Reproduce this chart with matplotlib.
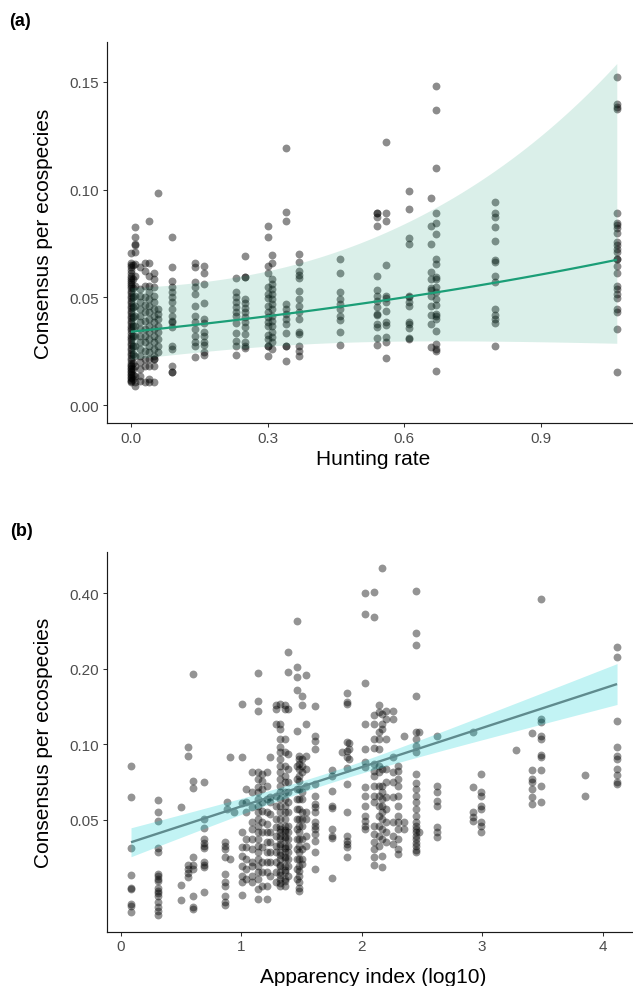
import numpy as np
import matplotlib
matplotlib.use("Agg")
import matplotlib.pyplot as plt
from matplotlib.ticker import FixedLocator, NullLocator, FixedFormatter

plt.rcParams['font.family'] = ['Liberation Sans', 'DejaVu Sans']

# ---------------- Panel (a): hunting rate vs consensus ----------------
hunting_rate = [0.0, 0.005, 0.01, 0.02, 0.03, 0.04, 0.05, 0.06, 0.09, 0.14, 0.16,
                0.23, 0.25, 0.30, 0.31, 0.34, 0.37, 0.46, 0.54, 0.56, 0.61, 0.66,
                0.67, 0.80, 1.067]

consensus_a = [
    [0.0705, 0.0660, 0.0652, 0.0640, 0.0628, 0.0615, 0.0600, 0.0590, 0.0580, 0.0572, 0.0562,
     0.0552, 0.0541, 0.0530, 0.0518, 0.0507, 0.0495, 0.0484, 0.0473, 0.0461, 0.0450, 0.0438,
     0.0427, 0.0415, 0.0404, 0.0392, 0.0380, 0.0369, 0.0357, 0.0346, 0.0334, 0.0322, 0.0311,
     0.0300, 0.0288, 0.0277, 0.0265, 0.0254, 0.0242, 0.0231, 0.0219, 0.0208, 0.0197, 0.0188,
     0.0180, 0.0173, 0.0166, 0.0160, 0.0153, 0.0146, 0.0138, 0.0130, 0.0124, 0.0118, 0.0112,
     0.0105],
    [0.0650, 0.0585, 0.0545, 0.0500, 0.0455, 0.0410, 0.0365, 0.0320, 0.0275, 0.0235, 0.0195,
     0.0165, 0.0140, 0.0122],
    [0.0827, 0.0781, 0.0747, 0.0742, 0.0708, 0.0654, 0.0600, 0.0554, 0.0507, 0.0461, 0.0414,
     0.0368, 0.0321, 0.0275, 0.0229, 0.0182, 0.0136, 0.0108, 0.0090],
    [0.0639, 0.0538, 0.0507, 0.0476, 0.0445, 0.0414, 0.0384, 0.0353, 0.0321, 0.0291, 0.0260,
     0.0229, 0.0198, 0.0167, 0.0136, 0.0113],
    [0.0657, 0.0623, 0.0551, 0.0500, 0.0464, 0.0430, 0.0391, 0.0353, 0.0321, 0.0291, 0.0252,
     0.0213, 0.0182, 0.0105],
    [0.0855, 0.0657, 0.0600, 0.0554, 0.0523, 0.0492, 0.0461, 0.0430, 0.0399, 0.0368, 0.0337,
     0.0306, 0.0275, 0.0244, 0.0213, 0.0182, 0.0121, 0.0108],
    [0.0612, 0.0584, 0.0546, 0.0507, 0.0476, 0.0445, 0.0414, 0.0384, 0.0353, 0.0321, 0.0291,
     0.0260, 0.0229, 0.0213, 0.0213, 0.0182, 0.0105],
    [0.0982, 0.0445, 0.0422, 0.0399, 0.0368, 0.0337, 0.0306, 0.0275, 0.0244],
    [0.0781, 0.0642, 0.0574, 0.0546, 0.0523, 0.0502, 0.0476, 0.0445, 0.0414, 0.0391, 0.0384,
     0.0360, 0.0275, 0.0260, 0.0180, 0.0152, 0.0152],
    [0.0657, 0.0639, 0.0569, 0.0546, 0.0515, 0.0461, 0.0414, 0.0384, 0.0353, 0.0321, 0.0294,
     0.0275, 0.0221],
    [0.0645, 0.0611, 0.0564, 0.0473, 0.0399, 0.0379, 0.0340, 0.0321, 0.0294, 0.0280, 0.0247,
     0.0232],
    [0.0588, 0.0523, 0.0502, 0.0479, 0.0453, 0.0430, 0.0414, 0.0379, 0.0334, 0.0295, 0.0275,
     0.0233],
    [0.0691, 0.0595, 0.0595, 0.0492, 0.0472, 0.0449, 0.0430, 0.0407, 0.0384, 0.0360, 0.0329,
     0.0291, 0.0275, 0.0264],
    [0.0832, 0.0781, 0.0646, 0.0611, 0.0546, 0.0515, 0.0495, 0.0461, 0.0430, 0.0407, 0.0386,
     0.0368, 0.0326, 0.0306, 0.0275, 0.0275, 0.0229],
    [0.0697, 0.0659, 0.0584, 0.0561, 0.0538, 0.0515, 0.0492, 0.0468, 0.0445, 0.0414, 0.0391,
     0.0368, 0.0337, 0.0314, 0.0291, 0.0260],
    [0.1191, 0.0898, 0.0852, 0.0468, 0.0445, 0.0422, 0.0399, 0.0376, 0.0333, 0.0272, 0.0272,
     0.0203],
    [0.0702, 0.0662, 0.0623, 0.0603, 0.0588, 0.0529, 0.0492, 0.0461, 0.0430, 0.0399, 0.0340,
     0.0329, 0.0275, 0.0252, 0.0227],
    [0.0676, 0.0615, 0.0526, 0.0492, 0.0468, 0.0445, 0.0414, 0.0396, 0.0337, 0.0278],
    [0.0889, 0.0889, 0.0875, 0.0832, 0.0598, 0.0535, 0.0507, 0.0484, 0.0453, 0.0422, 0.0417,
     0.0376, 0.0360, 0.0309, 0.0278],
    [0.1223, 0.0891, 0.0852, 0.0651, 0.0507, 0.0495, 0.0479, 0.0437, 0.0384, 0.0371, 0.0314,
     0.0294, 0.0217],
    [0.0993, 0.0912, 0.0773, 0.0747, 0.0507, 0.0500, 0.0476, 0.0458, 0.0386, 0.0376, 0.0356,
     0.0309, 0.0305],
    [0.0960, 0.0833, 0.0747, 0.0618, 0.0584, 0.0541, 0.0535, 0.0507, 0.0461, 0.0417, 0.0376,
     0.0268],
    [0.1480, 0.1370, 0.1101, 0.0891, 0.0844, 0.0795, 0.0677, 0.0654, 0.0592, 0.0584, 0.0546,
     0.0523, 0.0492, 0.0464, 0.0421, 0.0414, 0.0399, 0.0345, 0.0283, 0.0260, 0.0250, 0.0159],
    [0.0942, 0.0889, 0.0871, 0.0826, 0.0761, 0.0674, 0.0662, 0.0600, 0.0569, 0.0445, 0.0417,
     0.0399, 0.0380, 0.0274],
    [0.1521, 0.1396, 0.1384, 0.1376, 0.0892, 0.0847, 0.0835, 0.0820, 0.0798, 0.0755, 0.0742,
     0.0724, 0.0711, 0.0677, 0.0677, 0.0643, 0.0615, 0.0553, 0.0538, 0.0515, 0.0499, 0.0445,
     0.0433, 0.0353, 0.0154],
]

# fitted log-link model for (a): coefficients and their (co)variances
fit_a_coef = [-3.381, 0.641]
fit_a_vcov = [[0.0575, -0.0551], [-0.0551, 0.2200]]

ticks_a_x = [0.0, 0.3, 0.6, 0.9]
ticks_a_x_labels = ["0.0", "0.3", "0.6", "0.9"]
ticks_a_y = [0.00, 0.05, 0.10, 0.15]
ticks_a_y_labels = ["0.00", "0.05", "0.10", "0.15"]

# ---------------- Panel (b): apparency vs consensus (log scale) ----------------
apparency = [0.083, 0.31, 0.498, 0.559, 0.595, 0.692, 0.864, 0.878, 0.905, 0.941,
             1.008, 1.04, 1.085, 1.14, 1.167, 1.21, 1.24, 1.285, 1.32, 1.36, 1.39,
             1.465, 1.478, 1.506, 1.537, 1.611, 1.755, 1.838, 1.874, 1.896, 2.03,
             2.104, 2.14, 2.17, 2.2, 2.256, 2.302, 2.349, 2.449, 2.477, 2.626, 2.92,
             2.986, 3.28, 3.416, 3.489, 3.851, 4.12]

consensus_b = [
    [0.0819, 0.0614, 0.0385, 0.0301, 0.0268, 0.0264, 0.0230, 0.0226, 0.0215],
    [0.0601, 0.0538, 0.0495, 0.0384, 0.0371, 0.0304, 0.0297, 0.0290, 0.0285, 0.0266, 0.0260,
     0.0255, 0.0249, 0.0235, 0.0225, 0.0217, 0.0208],
    [0.0560, 0.0275, 0.0240],
    [0.0973, 0.0896, 0.0330, 0.0318, 0.0306, 0.0296],
    [0.190, 0.0716, 0.0667, 0.0354, 0.0331, 0.0318, 0.0249, 0.0225, 0.0220],
    [0.0705, 0.0503, 0.0462, 0.0419, 0.0403, 0.0394, 0.0384, 0.0338, 0.0330, 0.0323, 0.0257],
    [0.0409, 0.0394, 0.0382, 0.0354, 0.0304, 0.0281, 0.0273, 0.0249, 0.0234, 0.0229],
    [0.0590, 0.0550],
    [0.0888, 0.0348],
    [0.0538],
    [0.145, 0.0888, 0.0581, 0.0445, 0.0388, 0.0357, 0.0327, 0.0299, 0.0281, 0.0250],
    [0.0660, 0.0587, 0.0535, 0.0419, 0.0388, 0.0348, 0.0318, 0.0290],
    [0.0773, 0.0643, 0.0560, 0.0488, 0.0459, 0.0419, 0.0382, 0.0338, 0.0327, 0.0299, 0.0281],
    [0.193, 0.149, 0.136, 0.0773, 0.0727, 0.0674, 0.0643, 0.0605, 0.0569, 0.0535, 0.0503,
     0.0473, 0.0445, 0.0419, 0.0394, 0.0371, 0.0348, 0.0327, 0.0308, 0.0290, 0.0264, 0.0241],
    [0.0761, 0.0716, 0.0663, 0.0587, 0.0543, 0.0488, 0.0445, 0.0388, 0.0338, 0.0308, 0.0273],
    [0.0773, 0.0684, 0.0605, 0.0535, 0.0481, 0.0445, 0.0406, 0.0371, 0.0338, 0.0308, 0.0273,
     0.0241],
    [0.0888, 0.0614, 0.0587, 0.0527, 0.0445, 0.0406, 0.0371, 0.0338, 0.0299],
    [0.143, 0.138, 0.121, 0.0623, 0.0569, 0.0503, 0.0466, 0.0432, 0.0394, 0.0371, 0.0338,
     0.0308, 0.0281],
    [0.145, 0.1205, 0.115, 0.105, 0.0973, 0.0929, 0.0874, 0.0821, 0.0773, 0.0727, 0.0684,
     0.0643, 0.0605, 0.0569, 0.0535, 0.0503, 0.0473, 0.0460, 0.0445, 0.0430, 0.0419, 0.0400,
     0.0394, 0.0371, 0.0360, 0.0348, 0.0330, 0.0327, 0.0308, 0.0300, 0.0290, 0.0280, 0.0273],
    [0.143, 0.138, 0.105, 0.0929, 0.0821, 0.0749, 0.0705, 0.0643, 0.0605, 0.0569, 0.0535,
     0.0503, 0.0473, 0.0455, 0.0445, 0.0425, 0.0419, 0.0394, 0.0385, 0.0371, 0.0355, 0.0348,
     0.0327, 0.0315, 0.0308, 0.0290, 0.0285, 0.0273],
    [0.234, 0.195, 0.138, 0.0915, 0.0797, 0.0705, 0.0643, 0.0587, 0.0535, 0.0473, 0.0445,
     0.0419, 0.0394, 0.0371, 0.0348, 0.0327, 0.0299],
    [0.311, 0.203, 0.185, 0.164, 0.113, 0.0821, 0.0727, 0.0663, 0.0605, 0.0552, 0.0503,
     0.0459, 0.0419, 0.0382, 0.0348, 0.0318, 0.0290],
    [0.0901, 0.0874, 0.0834, 0.0797, 0.0749, 0.0716, 0.0663, 0.0605, 0.0552, 0.0503, 0.0473,
     0.0445, 0.0419, 0.0394, 0.0371, 0.0348, 0.0327, 0.0313, 0.0299, 0.0281, 0.0268, 0.0260],
    [0.156, 0.1435, 0.0874, 0.0821, 0.0773, 0.0643, 0.0605, 0.0535, 0.0503, 0.0473, 0.0419,
     0.0382, 0.0348, 0.0333],
    [0.189, 0.120, 0.0901, 0.0797, 0.0684, 0.0535, 0.0503, 0.0432, 0.0394],
    [0.142, 0.108, 0.103, 0.0958, 0.0694, 0.0623, 0.0578, 0.0560, 0.0535, 0.0488, 0.0473,
     0.0459, 0.0438, 0.0412, 0.0371, 0.0318],
    [0.0792, 0.0749, 0.0649, 0.0569, 0.0555, 0.0459, 0.0432, 0.0421, 0.0292],
    [0.0929],
    [0.160, 0.147, 0.145, 0.102, 0.0943, 0.0887, 0.0802, 0.0694, 0.0535, 0.0432, 0.0412,
     0.0400, 0.0388, 0.0354],
    [0.101, 0.0958, 0.0874],
    [0.401, 0.330, 0.175, 0.121, 0.0958, 0.0847, 0.0809, 0.0674, 0.0623, 0.0569, 0.0519,
     0.0496, 0.0470, 0.0461],
    [0.407, 0.323, 0.131, 0.1205, 0.105, 0.0964, 0.0834, 0.0785, 0.0749, 0.0684, 0.0623,
     0.0587, 0.0473, 0.0438, 0.0406, 0.0382, 0.0354, 0.0330],
    [0.143, 0.134, 0.112, 0.105, 0.0958, 0.0821, 0.0773, 0.0684, 0.0623, 0.0569, 0.0519,
     0.0473, 0.0432, 0.0394],
    [0.504, 0.132, 0.1205, 0.115, 0.0797, 0.0684, 0.0643, 0.0605, 0.0569, 0.0535, 0.0503,
     0.0459, 0.0419, 0.0359, 0.0325],
    [0.136, 0.126, 0.105, 0.0797, 0.0705, 0.0614, 0.0552, 0.0488, 0.0445, 0.0406],
    [0.136, 0.126, 0.0887, 0.0773, 0.0705, 0.0614, 0.0488, 0.0432, 0.0400],
    [0.0821, 0.0785, 0.0727, 0.0684, 0.0623, 0.0569, 0.0519, 0.0488, 0.0459, 0.0419, 0.0382,
     0.0365],
    [0.108, 0.0488, 0.0459],
    [0.410, 0.277, 0.248, 0.156, 0.112, 0.105, 0.0987, 0.0929, 0.0760, 0.0700, 0.0660, 0.0623,
     0.0587, 0.0552, 0.0519, 0.0490, 0.0473, 0.0460, 0.0445, 0.0430, 0.0419, 0.0405, 0.0394,
     0.0380, 0.0371],
    [0.112, 0.0445],
    [0.108, 0.0684, 0.0643, 0.0596, 0.0569, 0.0466, 0.0445, 0.0425],
    [0.112, 0.0674, 0.0535, 0.0511, 0.0496],
    [0.0761, 0.0643, 0.0623, 0.0569, 0.0552, 0.0488, 0.0473, 0.0445],
    [0.0951],
    [0.111, 0.0792, 0.0727, 0.0705, 0.0663, 0.0614, 0.0578],
    [0.380, 0.126, 0.123, 0.108, 0.105, 0.0906, 0.0887, 0.0792, 0.0684, 0.0587],
    [0.0756, 0.0623],
    [0.244, 0.222, 0.124, 0.0978, 0.0901, 0.0874, 0.0797, 0.0754, 0.0705, 0.0694],
]

# fitted linear model on log(consensus) for (b)
fit_b_coef = [-3.233, 0.3602]
fit_b_vcov = [[0.005016, -0.00254], [-0.00254, 0.001479]]

ticks_b_x = [0, 1, 2, 3, 4]
ticks_b_x_labels = ["0", "1", "2", "3", "4"]
ticks_b_y = [0.05, 0.10, 0.20, 0.40]
ticks_b_y_labels = ["0.05", "0.10", "0.20", "0.40"]

# ---------------- figure ----------------
W, H = 633, 987
fig = plt.figure(figsize=(W / 100, H / 100), dpi=100)


def px_axes(left, top, right, bottom):
    return fig.add_axes([left / W, 1 - bottom / H, (right - left) / W, (bottom - top) / H])


def style(ax):
    for s in ("top", "right"):
        ax.spines[s].set_visible(False)
    for s in ("left", "bottom"):
        ax.spines[s].set_linewidth(0.85)
        ax.spines[s].set_color("#1a1a1a")
    ax.tick_params(axis="both", which="major", direction="out", length=3.2, width=0.75,
                   color="#333333", labelcolor="#4d4d4d", labelsize=11)
    ax.tick_params(axis="y", pad=2.8)
    ax.tick_params(axis="x", pad=2.4)
    ax.set_facecolor("white")


def ribbon(xs, coef, vcov):
    xs = np.asarray(xs)
    eta = coef[0] + coef[1] * xs
    se = np.sqrt(vcov[0][0] + 2 * vcov[0][1] * xs + vcov[1][1] * xs ** 2)
    return np.exp(eta), np.exp(eta - 1.96 * se), np.exp(eta + 1.96 * se)


# ---- panel (a)
ax_a = px_axes(107.0, 43.3, 633, 424.0)
style(ax_a)
xa, ya = [], []
for hr, vals in zip(hunting_rate, consensus_a):
    xa += [hr] * len(vals)
    ya += vals
ax_a.scatter(xa, ya, s=32, color="black", alpha=0.45, linewidths=0, zorder=2)
grid_a = np.linspace(min(hunting_rate), max(hunting_rate), 120)
fit, lo, hi = ribbon(grid_a, fit_a_coef, fit_a_vcov)
ax_a.fill_between(grid_a, lo, hi, color="#1b9e77", alpha=0.16, linewidth=0, zorder=3)
ax_a.plot(grid_a, fit, color="#1b9e77", lw=1.6, zorder=4, solid_capstyle="butt")
ax_a.set_xlim(-0.0525, 1.1026)
ax_a.set_ylim(-0.00835, 0.16837)
ax_a.xaxis.set_major_locator(FixedLocator(ticks_a_x))
ax_a.xaxis.set_major_formatter(FixedFormatter(ticks_a_x_labels))
ax_a.yaxis.set_major_locator(FixedLocator(ticks_a_y))
ax_a.yaxis.set_major_formatter(FixedFormatter(ticks_a_y_labels))

# ---- panel (b)
ax_b = px_axes(107.0, 552.7, 633, 932.7)
style(ax_b)
xb, yb = [], []
for ap, vals in zip(apparency, consensus_b):
    xb += [ap] * len(vals)
    yb += vals
ax_b.set_yscale("log", base=2)
ax_b.scatter(xb, yb, s=32, color="black", alpha=0.42, linewidths=0, zorder=2)
grid_b = np.linspace(min(apparency), max(apparency), 120)
fitb, lob, hib = ribbon(grid_b, fit_b_coef, fit_b_vcov)
ax_b.fill_between(grid_b, lob, hib, color="#00ced1", alpha=0.24, linewidth=0, zorder=3)
ax_b.plot(grid_b, fitb, color="#5f8b8e", lw=1.7, zorder=4, solid_capstyle="butt")
ax_b.set_xlim(-0.1163, 4.2525)
ax_b.set_ylim(0.01786, 0.587)
ax_b.xaxis.set_major_locator(FixedLocator(ticks_b_x))
ax_b.xaxis.set_major_formatter(FixedFormatter(ticks_b_x_labels))
ax_b.yaxis.set_major_locator(FixedLocator(ticks_b_y))
ax_b.yaxis.set_major_formatter(FixedFormatter(ticks_b_y_labels))
ax_b.yaxis.set_minor_locator(NullLocator())

# ---- labels
def ftext(x, y, s, **kw):
    fig.text(x / W, 1 - y / H, s, **kw)


ftext(44, 233.5, "Consensus per ecospecies", rotation=90, ha="center", va="center",
      fontsize=15, color="black")
ftext(44, 742.7, "Consensus per ecospecies", rotation=90, ha="center", va="center",
      fontsize=15, color="black")
ftext(373.5, 465, "Hunting rate", ha="center", va="baseline", fontsize=15, color="black")
ftext(373.5, 983, "Apparency index (log10)", ha="center", va="baseline", fontsize=15,
      color="black")
ftext(9, 22, "(a)", ha="left", va="center", fontsize=13, fontweight="bold")
ftext(10, 531, "(b)", ha="left", va="center", fontsize=13, fontweight="bold")

fig.savefig("out.png", dpi=100, facecolor="white")
